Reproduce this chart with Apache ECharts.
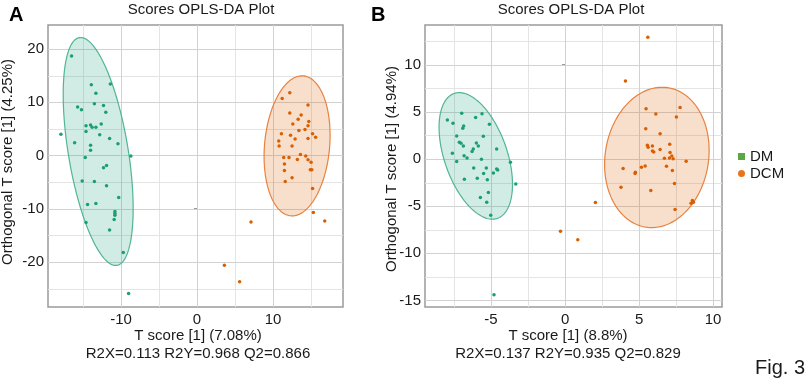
<!DOCTYPE html>
<html>
<head>
<meta charset="utf-8">
<script src="https://cdn.jsdelivr.net/npm/echarts@6/dist/echarts.min.js"></script>
<style>
  html, body { margin: 0; padding: 0; background: #fff; }
  #chart { width: 809px; height: 382px; }
</style>
</head>
<body>
<div id="chart"></div>
<script>
// scores [T score, orthogonal T score]
const dmA = [[-16.5, 18.7], [-13.9, 13.3], [-11.4, 13.4], [-13.3, 11.7], [-15.7, 9.1], [-15.2, 8.6], [-13.5, 9.7],
  [-12.3, 9.4], [-12.0, 8.1], [-14.6, 5.6], [-14.0, 5.7], [-13.8, 5.3], [-13.3, 5.3], [-12.6, 5.9], [-14.6, 4.5],
  [-12.8, 3.9], [-17.9, 4.0], [-11.5, 3.2], [-16.1, 2.4], [-10.4, 2.2], [-14.0, 1.9], [-14.0, 1.0], [-8.7, -0.1],
  [-14.7, -0.4], [-11.9, -1.9], [-12.3, -2.3], [-15.1, -4.8], [-13.5, -4.9], [-11.9, -5.7], [-10.3, -7.9],
  [-14.4, -9.2], [-13.3, -9.0], [-10.8, -10.5], [-10.8, -10.9], [-10.8, -11.2], [-10.9, -12.0], [-14.6, -12.6],
  [-11.5, -14.0], [-9.7, -18.2], [-9.0, -25.9]]
const dcmA = [[11.2, 10.7], [12.2, 11.8], [14.6, 9.5], [12.2, 8.0], [13.7, 7.6], [13.3, 6.8], [14.7, 6.4],
  [12.6, 5.9], [14.6, 5.6], [14.2, 4.9], [13.4, 4.7], [11.1, 4.1], [12.3, 3.8], [15.2, 4.1], [15.6, 3.4],
  [14.6, 3.2], [12.9, 3.1], [10.75, 2.7], [10.8, 1.8], [12.5, 1.8], [11.4, -0.4], [12.1, -0.4], [13.6, 0.2],
  [14.3, -0.1], [13.2, -0.75], [14.6, -0.8], [15.0, -1.25], [11.5, -1.6], [15.1, -2.7], [14.9, -2.7],
  [11.5, -2.8], [12.5, -4.2], [11.6, -4.9], [15.2, -6.2], [15.3, -10.7], [16.8, -12.3], [7.1, -12.5],
  [3.6, -20.6], [5.6, -23.7]]
const dmB = [[-7.95, 4.13], [-7.57, 3.78], [-6.98, 4.84], [-6.04, 4.38], [-5.61, 4.8], [-5.11, 3.67], [-6.85, 3.5],
  [-6.91, 3.25], [-7.32, 2.44], [-7.14, 1.77], [-7.03, 1.66], [-6.87, 1.38], [-5.99, 1.69], [-5.52, 2.4],
  [-5.86, 1.38], [-6.2, 1.06], [-6.28, 0.78], [-4.62, 1.06], [-7.61, 0.6], [-6.82, 0.35], [-6.62, 0.1],
  [-5.65, -0.03], [-7.32, -0.28], [-3.69, -0.35], [-6.17, -0.95], [-5.32, -0.95], [-4.62, -1.06], [-4.55, -1.17],
  [-5.5, -1.55], [-4.84, -1.48], [-5.93, -2.05], [-5.25, -2.22], [-6.8, -2.15], [-3.33, -2.65], [-5.18, -3.57],
  [-5.72, -4.1], [-5.29, -4.6], [-5.02, -5.97], [-4.8, -14.4]]
const dcmB = [[5.59, 12.9], [4.08, 8.26], [5.47, 5.33], [7.77, 5.44], [6.13, 4.77], [7.52, 4.45], [5.45, 3.21],
  [6.42, 2.68], [5.56, 1.45], [5.61, 1.24], [5.9, 1.38], [5.9, 0.85], [5.99, 0.74], [7.07, 1.56], [6.42, 0.99],
  [7.09, 0.67], [7.21, 0.32], [7.3, 0.03], [7.05, 0.1], [6.71, 0.07], [8.18, -0.25], [5.41, -0.74], [5.16, -0.88],
  [6.85, -0.78], [3.92, -1.02], [7.25, -1.24], [4.75, -1.41], [4.73, -1.55], [7.39, -2.61], [3.78, -3.0],
  [5.79, -3.36], [2.05, -4.63], [8.51, -4.7], [8.6, -4.4], [8.67, -4.6], [7.43, -5.37], [0.86, -8.58],
  [-0.31, -7.66]]

// 95% ellipses: [centre x, centre y, half width, half height, correlation]
const ellDmA = [-13.0, 0.75, 4.6, 21.4, -0.5]
const ellDcmA = [13.16, 1.81, 4.34, 13.15, 0.15]
const ellDmB = [-6.03, 0.32, 2.48, 6.71, -0.45]
const ellDcmB = [6.2, 0.16, 3.53, 7.44, 0.1]

// axes
const xRangeA = [-19.6, 19.2]
const yRangeA = [-28.45, 24.5]
const xRangeB = [-9.46, 10.6]
const yRangeB = [-15.7, 14.2]
const xTicksA = [-10, 0, 10]
const yTicksA = [-20, -10, 0, 10, 20]
const xTicksB = [-5, 0, 5, 10]
const yTicksB = [-15, -10, -5, 0, 5, 10]
const xMinorA = [-15, -5, 5, 15]
const yMinorA = [-25, -15, -5, 5, 15]
const xMinorB = [-7.5, -2.5, 2.5, 7.5]
const yMinorB = [-12.5, -7.5, -2.5, 2.5, 7.5, 12.5]

const groups = ['DM', 'DCM']
const statsA = 'R2X=0.113 R2Y=0.968 Q2=0.866'
const statsB = 'R2X=0.137 R2Y=0.935 Q2=0.829'

const FONT = '"Liberation Sans", Arial, sans-serif'
const GREEN = '#1b9e77'
const ORANGE = '#d95f02'
const MAJOR = '#d2d2d2'
const MINOR = '#e4e4e4'

const chart = echarts.init(document.getElementById('chart'))

function xAxis(grid, range, ticks) {
  return {
    gridIndex: grid, type: 'value', min: range[0], max: range[1],
    axisLine: { show: false },
    axisTick: { show: true, length: 3, customValues: ticks, lineStyle: { color: '#999' } },
    axisLabel: { customValues: ticks, margin: 5, fontSize: 15, color: '#1a1a1a', fontFamily: FONT },
    splitLine: { show: false }
  }
}
function yAxis(grid, range, ticks) {
  const a = xAxis(grid, range, ticks)
  a.axisLabel.margin = 4
  return a
}

function ellipse(e, idx, fill, stroke) {
  return {
    type: 'custom', xAxisIndex: idx, yAxisIndex: idx, silent: true, z: 2,
    data: [e],
    renderItem: function(params, api) {
      const pts = []
      const s = Math.sqrt(1 - e[4] * e[4])
      for (let i = 0; i < 180; i++) {
        const t = i / 180 * 2 * Math.PI
        pts.push(api.coord([e[0] + e[2] * Math.cos(t), e[1] + e[3] * (e[4] * Math.cos(t) + s * Math.sin(t))]))
      }
      return { type: 'polygon', shape: { points: pts }, style: { fill: fill, stroke: stroke, lineWidth: 1.2 } }
    }
  }
}

// grid lines: vertical ones start at [x, ymin], horizontal ones at [xmin, y]
function vLines(idx, yr, xs, color) {
  return {
    type: 'custom', xAxisIndex: idx, yAxisIndex: idx, silent: true, z: 1,
    data: xs.map(v => [v, yr[0]]),
    renderItem: function(params, api) {
      const a = api.coord([api.value(0), yr[0]])
      const b = api.coord([api.value(0), yr[1]])
      return { type: 'rect', shape: { x: Math.round(a[0]), y: b[1], width: 1, height: a[1] - b[1] }, style: { fill: color } }
    }
  }
}
function hLines(idx, xr, ys, color) {
  return {
    type: 'custom', xAxisIndex: idx, yAxisIndex: idx, silent: true, z: 1,
    data: ys.map(v => [xr[0], v]),
    renderItem: function(params, api) {
      const a = api.coord([xr[0], api.value(1)])
      const b = api.coord([xr[1], api.value(1)])
      return { type: 'rect', shape: { x: a[0], y: Math.round(a[1]), width: b[0] - a[0], height: 1 }, style: { fill: color } }
    }
  }
}

function points(name, data, idx, color) {
  return {
    name: name, type: 'scatter', xAxisIndex: idx, yAxisIndex: idx, z: 3,
    data: data, symbolSize: 3.5, itemStyle: { color: color, opacity: 1 }
  }
}

function text(str, x, y, opts) {
  return Object.assign({
    type: 'text', x: x, y: y, silent: true,
    style: { text: str, font: '15px ' + FONT, fill: '#1a1a1a', align: 'center', verticalAlign: 'middle' }
  }, opts || {})
}

const graphics = [
  text('A', 9, 15, { style: { text: 'A', font: 'bold 20px ' + FONT, fill: '#000', align: 'left', verticalAlign: 'middle' } }),
  text('B', 371, 15, { style: { text: 'B', font: 'bold 20px ' + FONT, fill: '#000', align: 'left', verticalAlign: 'middle' } }),
  text('Scores OPLS-DA Plot', 201, 9.5),
  text('Scores OPLS-DA Plot', 571, 9.5),
  text('T score [1] (7.08%)', 198, 336),
  text('T score [1] (8.8%)', 568, 336),
  text(statsA, 198, 354),
  text(statsB, 568, 354),
  text('Orthogonal T score [1] (4.25%)', 8, 162, { rotation: Math.PI / 2 }),
  text('Orthogonal T score [1] (4.94%)', 392, 169, { rotation: Math.PI / 2 }),
  text('Fig. 3', 755, 368, { style: { text: 'Fig. 3', font: '20px ' + FONT, fill: '#1a1a1a', align: 'left', verticalAlign: 'middle' } })
]

chart.setOption({
  animation: false,
  grid: [
    { left: 48, top: 25, width: 295, height: 282, show: true, borderColor: '#9a9a9a', borderWidth: 1.5 },
    { left: 425, top: 25, width: 297, height: 282, show: true, borderColor: '#9a9a9a', borderWidth: 1.5 }
  ],
  xAxis: [xAxis(0, xRangeA, xTicksA), xAxis(1, xRangeB, xTicksB)],
  yAxis: [yAxis(0, yRangeA, yTicksA), yAxis(1, yRangeB, yTicksB)],
  legend: {
    orient: 'vertical', left: 733, top: 144, itemWidth: 7, itemHeight: 7, itemGap: 2, itemTextGap: 8,
    selectedMode: false,
    textStyle: { fontSize: 15, color: '#1a1a1a', fontFamily: FONT },
    data: [
      { name: groups[0], icon: 'rect', itemStyle: { color: '#5aa845' } },
      { name: groups[1], icon: 'circle', itemStyle: { color: '#e8731a' } }
    ]
  },
  graphic: graphics,
  series: [
    vLines(0, yRangeA, xMinorA, MINOR),
    hLines(0, xRangeA, yMinorA, MINOR),
    vLines(1, yRangeB, xMinorB, MINOR),
    hLines(1, xRangeB, yMinorB, MINOR),
    vLines(0, yRangeA, xTicksA, MAJOR),
    hLines(0, xRangeA, yTicksA, MAJOR),
    vLines(1, yRangeB, xTicksB, MAJOR),
    hLines(1, xRangeB, yTicksB, MAJOR),
    ellipse(ellDmA, 0, 'rgba(27,158,119,0.2)', '#52b594'),
    ellipse(ellDcmA, 0, 'rgba(217,95,2,0.2)', '#e8823e'),
    ellipse(ellDmB, 1, 'rgba(27,158,119,0.2)', '#52b594'),
    ellipse(ellDcmB, 1, 'rgba(217,95,2,0.2)', '#e8823e'),
    points(groups[0], dmA, 0, GREEN),
    points(groups[1], dcmA, 0, ORANGE),
    points(groups[0], dmB, 1, GREEN),
    points(groups[1], dcmB, 1, ORANGE)
  ]
})
</script>
</body>
</html>
